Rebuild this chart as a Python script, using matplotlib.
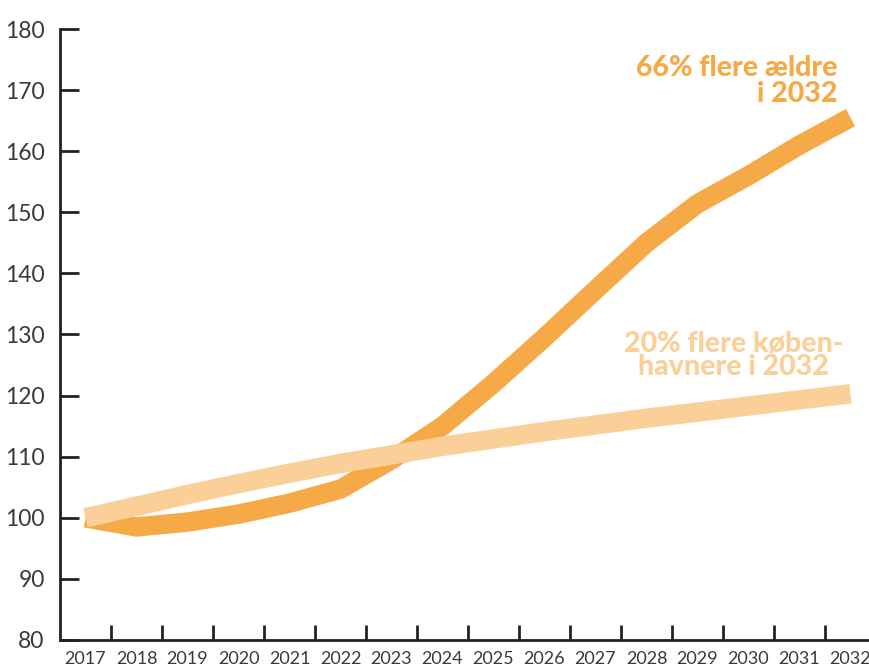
import matplotlib
matplotlib.use("Agg")
import matplotlib.pyplot as plt
from matplotlib.ticker import FixedLocator

# index, 2017 = 100
years = list(range(2017, 2033))
aeldre = [100, 98.5, 99.3, 100.6, 102.4, 104.7, 109.5, 115.0, 122.0,
          129.5, 137.3, 145.0, 151.4, 156.0, 161.0, 165.5]
befolkning = [100, 101.9, 103.8, 105.6, 107.3, 108.9, 110.3, 111.7, 112.9,
              114.1, 115.2, 116.3, 117.3, 118.3, 119.3, 120.3]
y_ticks = list(range(80, 181, 10))

dark = '#F6A947'
light = '#FBCF98'
axis_col = '#222222'
text_col = '#3a3a3a'

plt.rcParams['font.family'] = ['Lato', 'DejaVu Sans']

fig = plt.figure(figsize=(8.7, 6.69), dpi=100)
ax = fig.add_axes([60 / 870, 1 - 640 / 669, 1 - 60 / 870, (640 - 29) / 669])

ax.plot(years, aeldre, color=dark, lw=14, solid_capstyle='butt',
        solid_joinstyle='miter', zorder=2)
ax.plot(years, befolkning, color=light, lw=14, solid_capstyle='butt',
        solid_joinstyle='miter', zorder=3)

ax.set_xlim(2016.5, 2016.5 + (870 - 60) / 51)
ax.set_ylim(80, 180)

for s in ['top', 'right']:
    ax.spines[s].set_visible(False)
for s in ['left', 'bottom']:
    ax.spines[s].set_linewidth(2)
    ax.spines[s].set_color(axis_col)

ax.set_yticks(y_ticks)
ax.tick_params(axis='y', direction='in', length=14, width=2, color=axis_col,
               pad=11, labelsize=16.5, labelcolor=text_col)

ax.set_xticks(years)
ax.set_xticklabels([str(y) for y in years])
ax.tick_params(axis='x', which='major', length=0, pad=8, labelsize=13,
               labelcolor=text_col)
ax.xaxis.set_minor_locator(FixedLocator([y + 0.5 for y in years[:-1]]))
ax.tick_params(axis='x', which='minor', direction='in', length=11, width=2,
               color=axis_col)

# va='baseline' sits on the last line's baseline
ax.text(2031.74, 168.1, '66% flere ældre\ni 2032', color=dark,
        fontsize=20.5, fontweight='black', ha='right', ma='right',
        va='baseline', linespacing=1.0)
ax.text(2029.7, 123.4, '20% flere køben-\nhavnere i 2032', color=light,
        fontsize=20.5, fontweight='black', ha='center', ma='center',
        va='baseline', linespacing=0.83)

fig.savefig('out.png', dpi=100)
